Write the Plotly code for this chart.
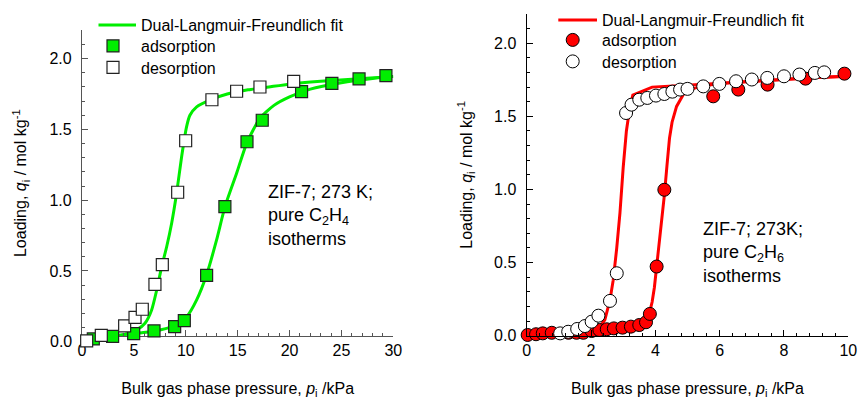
import plotly.graph_objects as go

# ---------------- Left panel: C2H4 ----------------
c2h4_ads_p = [1.09, 2.95, 4.98, 6.94, 8.93, 9.86, 12.01, 13.77, 15.9, 17.37, 21.16, 24.08, 26.7, 29.29]
c2h4_ads_q = [0.019, 0.038, 0.057, 0.076, 0.106, 0.148, 0.469, 0.954, 1.413, 1.565, 1.767, 1.826, 1.857, 1.88]
c2h4_des_p = [0.45, 1.86, 4.11, 5.11, 5.81, 7.03, 7.74, 9.22, 9.99, 12.52, 14.9, 17.15, 20.4]
c2h4_des_q = [0.005, 0.045, 0.111, 0.172, 0.229, 0.405, 0.544, 1.056, 1.42, 1.71, 1.77, 1.80, 1.84]

c2h4_fit_ads_p = [0, 1, 2, 3, 4.3, 5.9, 7.5, 9.1, 10.1, 11.05, 12.0, 12.97, 13.78, 14.9, 15.87, 17.15, 18.5, 20, 22, 25, 28, 30]
c2h4_fit_ads_q = [0, 0.012, 0.025, 0.038, 0.052, 0.064, 0.083, 0.118, 0.177, 0.295, 0.471, 0.719, 0.954, 1.19, 1.402, 1.579, 1.67, 1.73, 1.785, 1.83, 1.86, 1.875]
c2h4_fit_des_p = [0, 1, 2, 3, 3.98, 5.27, 6.07, 6.71, 7.2, 7.68, 8.16, 8.64, 9.12, 9.6, 10.08, 10.4, 11.05, 12.33, 14, 16, 18, 20, 23, 26, 30]
c2h4_fit_des_q = [0, 0.01, 0.02, 0.033, 0.047, 0.083, 0.13, 0.224, 0.365, 0.53, 0.671, 0.837, 1.05, 1.307, 1.52, 1.60, 1.66, 1.708, 1.75, 1.78, 1.80, 1.82, 1.84, 1.855, 1.875]

# ---------------- Right panel: C2H6 ----------------
c2h6_ads_p = [0.03, 0.29, 0.5, 0.78, 1.3, 1.55, 1.76, 2.02, 2.26, 2.49, 2.71, 2.98, 3.24, 3.5, 3.71, 3.83, 4.04, 4.28, 5.8, 6.58, 7.49, 8.67, 9.88]
c2h6_ads_q = [0.005, 0.01, 0.016, 0.02, 0.02, 0.02, 0.02, 0.032, 0.039, 0.044, 0.05, 0.055, 0.062, 0.073, 0.092, 0.149, 0.473, 0.998, 1.637, 1.683, 1.717, 1.758, 1.792]
c2h6_des_p = [1.04, 1.29, 1.57, 1.81, 2.02, 2.23, 2.59, 2.8, 3.09, 3.26, 3.5, 3.75, 4.02, 4.28, 4.53, 4.77, 5.0, 5.49, 5.99, 6.51, 7.0, 7.48, 8.0, 8.48, 8.96, 9.25]
c2h6_des_q = [0.016, 0.027, 0.046, 0.066, 0.096, 0.137, 0.238, 0.427, 1.523, 1.58, 1.614, 1.626, 1.642, 1.653, 1.669, 1.683, 1.688, 1.705, 1.722, 1.74, 1.752, 1.763, 1.774, 1.786, 1.797, 1.801]

c2h6_fit_ads_p = [0, 1, 2, 3, 3.5, 3.7, 3.8, 3.9, 3.97, 4.04, 4.12, 4.2, 4.28, 4.36, 4.44, 4.52, 4.66, 4.87, 5.08, 5.4, 6, 7, 8, 9, 10]
c2h6_fit_ads_q = [0, 0.015, 0.03, 0.045, 0.065, 0.09, 0.14, 0.23, 0.33, 0.47, 0.63, 0.79, 0.96, 1.16, 1.35, 1.46, 1.568, 1.649, 1.683, 1.705, 1.725, 1.74, 1.755, 1.765, 1.774]
c2h6_fit_des_p = [0, 1, 2, 2.28, 2.43, 2.59, 2.69, 2.8, 2.9, 3.0, 3.1, 3.2, 3.3, 3.9, 5, 6, 7, 8, 9, 10]
c2h6_fit_des_q = [0, 0.02, 0.04, 0.062, 0.108, 0.245, 0.38, 0.6, 0.84, 1.15, 1.40, 1.55, 1.645, 1.70, 1.715, 1.725, 1.74, 1.755, 1.765, 1.774]

GREEN = "#00ee00"
RED = "#ff0000"
FONT = "Liberation Sans, Arial, sans-serif"
W, H = 858, 399

fig = go.Figure()

# left panel traces: fit lines on y (clipped at the raised axis line), markers on y3
fig.add_trace(go.Scatter(x=c2h4_fit_ads_p, y=c2h4_fit_ads_q, mode="lines",
                         line=dict(color=GREEN, width=3, shape="spline", smoothing=0.6),
                         name="Dual-Langmuir-Freundlich fit", legend="legend", xaxis="x", yaxis="y"))
fig.add_trace(go.Scatter(x=c2h4_fit_des_p, y=c2h4_fit_des_q, mode="lines",
                         line=dict(color=GREEN, width=3, shape="spline", smoothing=0.6),
                         showlegend=False, xaxis="x", yaxis="y"))
fig.add_trace(go.Scatter(x=c2h4_ads_p, y=c2h4_ads_q, mode="markers", name="adsorption", legend="legend3",
                         marker=dict(symbol="square", size=12, color=GREEN, line=dict(color="#222", width=1.2)),
                         cliponaxis=False, xaxis="x", yaxis="y3"))
fig.add_trace(go.Scatter(x=c2h4_des_p, y=c2h4_des_q, mode="markers", name="desorption", legend="legend4",
                         marker=dict(symbol="square", size=12, color="white", line=dict(color="#222", width=1.2)),
                         cliponaxis=False, xaxis="x", yaxis="y3"))

# right panel traces
fig.add_trace(go.Scatter(x=c2h6_fit_ads_p, y=c2h6_fit_ads_q, mode="lines", line=dict(color=RED, width=3),
                         name="Dual-Langmuir-Freundlich fit", legend="legend2", xaxis="x2", yaxis="y2"))
fig.add_trace(go.Scatter(x=c2h6_fit_des_p, y=c2h6_fit_des_q, mode="lines", line=dict(color=RED, width=3),
                         showlegend=False, xaxis="x2", yaxis="y2"))
fig.add_trace(go.Scatter(x=c2h6_ads_p, y=c2h6_ads_q, mode="markers", name="adsorption", legend="legend5",
                         marker=dict(symbol="circle", size=13, color=RED, line=dict(color="black", width=1)),
                         cliponaxis=False, xaxis="x2", yaxis="y2"))
fig.add_trace(go.Scatter(x=c2h6_des_p, y=c2h6_des_q, mode="markers", name="desorption", legend="legend6",
                         marker=dict(symbol="circle", size=13, color="white", line=dict(color="black", width=1)),
                         cliponaxis=False, xaxis="x2", yaxis="y2"))

# geometry
L_dom_x = [82 / W, 393.3 / W]
L_bottom_px, L_top_px = 336.0, 30.4
L_range_y = [0.04, 2.2]
L_dom_y = [1 - L_bottom_px / H, 1 - L_top_px / H]
px_per_unit = (L_bottom_px - L_top_px) / (L_range_y[1] - L_range_y[0])
L3_bottom_px = L_bottom_px + L_range_y[0] * px_per_unit
L3_dom_y = [1 - L3_bottom_px / H, L_dom_y[1]]
R_dom_x = [526.7 / W, 848.3 / W]
R_dom_y = [1 - 335.7 / H, 1 - 14 / H]


def axis_common(color):
    return dict(showgrid=False, zeroline=False, showline=True, linecolor=color, linewidth=1.3,
                ticks="inside", ticklen=6, tickwidth=1.2, tickcolor=color, automargin=False,
                tickfont=dict(size=16, color="black", family=FONT), mirror=False)


xt = "Bulk gas phase pressure, <i>p</i><sub>i</sub> /kPa"
yt = "Loading, <i>q</i><sub>i</sub> / mol kg<sup>-1</sup>"
left_col = "#555555"


def leg(x_px, top_px, w):
    return dict(x=x_px / W, y=1 - top_px / H, xanchor="left", yanchor="top",
                bgcolor="rgba(0,0,0,0)", font=dict(size=16, family=FONT), itemwidth=w,
                borderwidth=0)


fig.update_layout(
    width=W, height=H, margin=dict(l=0, r=0, t=0, b=0, autoexpand=False),
    paper_bgcolor="white", plot_bgcolor="rgba(0,0,0,0)",
    font=dict(family=FONT, size=16, color="black"),
    xaxis=dict(domain=L_dom_x, range=[0, 30], anchor="y", dtick=5,
               minor=dict(dtick=1, ticklen=3, ticks="inside", tickcolor=left_col),
               title=dict(text=xt, standoff=24, font=dict(size=16)), **axis_common(left_col)),
    yaxis=dict(domain=L_dom_y, range=L_range_y, anchor="x", dtick=0.5, tick0=0, tickformat=".1f",
               minor=dict(dtick=0.1, ticklen=3, ticks="inside", tickcolor=left_col),
               ticklabelstandoff=6,
               title=dict(text=yt, standoff=18, font=dict(size=16)), **axis_common(left_col)),
    yaxis3=dict(domain=L3_dom_y, range=[0, L_range_y[1]], anchor="x", visible=False,
                showgrid=False, zeroline=False, automargin=False),
    xaxis2=dict(domain=R_dom_x, range=[0, 10], anchor="y2", dtick=2,
                minor=dict(dtick=0.4, ticklen=3, ticks="inside", tickcolor="black"),
                title=dict(text=xt, standoff=29, font=dict(size=16)), **axis_common("black")),
    yaxis2=dict(domain=R_dom_y, range=[0, 2.2], anchor="x2", dtick=0.5, tickformat=".1f",
                minor=dict(dtick=0.1, ticklen=3, ticks="inside", tickcolor="black"),
                ticklabelstandoff=6,
                title=dict(text=yt, standoff=17, font=dict(size=16)), **axis_common("black")),
    legend=leg(93.5, 8, 37.5),
    legend3=leg(85, 29, 46),
    legend4=leg(85, 50.5, 46),
    legend2=leg(553.3, 3, 38.7),
    legend5=leg(543.4, 23, 48.6),
    legend6=leg(543.4, 44.5, 48.6),
    showlegend=True,
)

# "0.0" tick label of the left panel sits just below the raised axis line
fig.add_annotation(text="0.0", x=L_dom_x[0], xref="paper", y=0, yref="y3",
                   xanchor="right", yanchor="middle", xshift=-8, showarrow=False,
                   font=dict(size=16, color="black", family=FONT))

fig.add_annotation(text="ZIF-7; 273 K;<br>pure C<sub>2</sub>H<sub>4</sub><br>isotherms",
                   x=17.7, y=0.89, xref="x", yref="y", xanchor="left", yanchor="middle",
                   align="left", showarrow=False, font=dict(size=18, color="black", family=FONT))
fig.add_annotation(text="ZIF-7; 273K;<br>pure C<sub>2</sub>H<sub>6</sub><br>isotherms",
                   x=5.42, y=0.57, xref="x2", yref="y2", xanchor="left", yanchor="middle",
                   align="left", showarrow=False, font=dict(size=18, color="black", family=FONT))

fig.write_html("out.html")
